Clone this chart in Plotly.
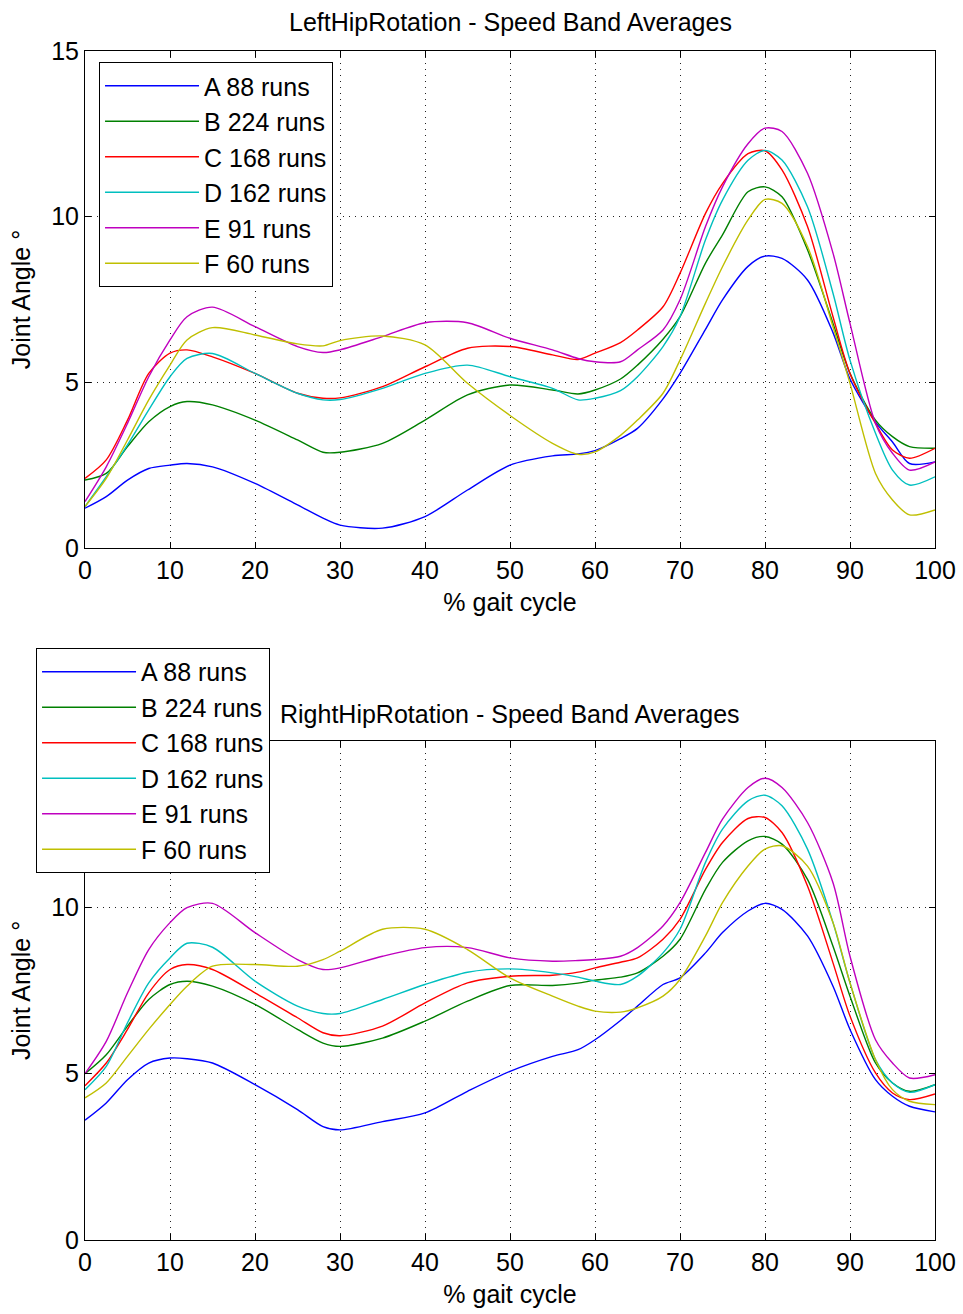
import plotly.graph_objects as go

# % gait cycle sample points
gait = [0, 2.5, 5, 7.5, 10, 12, 15, 20, 25, 28, 30, 35, 40, 45, 50, 55, 58, 60, 63, 65,
        68, 70, 73, 75, 78, 80, 82, 85, 88, 90, 93, 95, 97, 100]

labels = ["A 88 runs", "B 224 runs", "C 168 runs", "D 162 runs", "E 91 runs", "F 60 runs"]
colors = ["#0000FF", "#008000", "#FF0000", "#00BFBF", "#BF00BF", "#BFBF00"]

# LeftHipRotation series (Joint Angle deg)
left_A = [1.2, 1.55, 2.05, 2.4, 2.5, 2.55, 2.45, 1.95, 1.3, 0.9, 0.69, 0.6, 0.95, 1.75, 2.5, 2.78, 2.84, 2.94, 3.3, 3.61,
          4.5, 5.27, 6.6, 7.49, 8.5, 8.81, 8.74, 8.09, 6.5, 5.1, 3.8, 3.2, 2.55, 2.6]
left_B = [2.05, 2.25, 3.06, 3.81, 4.27, 4.42, 4.32, 3.86, 3.26, 2.89, 2.89, 3.16, 3.86, 4.62, 4.92, 4.77, 4.65, 4.77, 5.1, 5.52,
          6.3, 6.98, 8.6, 9.45, 10.75, 10.9, 10.6, 9.0, 6.78, 5.27, 3.86, 3.36, 3.06, 3.01]
left_C = [2.1, 2.66, 3.86, 5.27, 5.88, 5.98, 5.77, 5.27, 4.67, 4.52, 4.53, 4.87, 5.47, 6.03, 6.08, 5.83, 5.69, 5.88, 6.2, 6.58,
          7.28, 8.29, 10.1, 11.0, 11.9, 11.99, 11.41, 9.7, 6.98, 5.27, 3.76, 2.96, 2.71, 3.01]
left_D = [1.25, 2.15, 3.11, 4.17, 5.17, 5.72, 5.87, 5.27, 4.67, 4.47, 4.48, 4.82, 5.27, 5.52, 5.17, 4.82, 4.47, 4.52, 4.75, 5.17,
          6.08, 6.98, 9.3, 10.5, 11.7, 12.0, 11.71, 10.3, 7.69, 5.67, 3.46, 2.35, 1.9, 2.15]
left_E = [1.4, 2.45, 3.76, 5.17, 6.28, 6.98, 7.27, 6.68, 6.08, 5.9, 5.98, 6.38, 6.8, 6.8, 6.33, 5.98, 5.72, 5.62, 5.62, 5.98,
          6.58, 7.49, 9.7, 10.9, 12.2, 12.67, 12.57, 11.31, 8.9, 6.78, 3.76, 2.86, 2.35, 2.6]
left_F = [1.25, 2.1, 3.26, 4.47, 5.52, 6.28, 6.65, 6.43, 6.16, 6.1, 6.26, 6.4, 6.13, 4.97, 4.0, 3.16, 2.83, 2.9, 3.4, 3.86,
          4.67, 5.67, 7.39, 8.49, 9.9, 10.52, 10.4, 9.1, 6.68, 4.97, 2.25, 1.45, 1.0, 1.15]

# RightHipRotation series (Joint Angle deg)
right_A = [3.6, 4.12, 4.82, 5.32, 5.47, 5.45, 5.32, 4.67, 3.92, 3.41, 3.31, 3.56, 3.82, 4.47, 5.07, 5.52, 5.72, 6.02, 6.6, 7.03,
           7.68, 7.88, 8.63, 9.24, 9.89, 10.12, 9.94, 9.14, 7.63, 6.33, 4.82, 4.32, 4.02, 3.85]
right_B = [5.0, 5.57, 6.43, 7.23, 7.68, 7.78, 7.63, 7.08, 6.33, 5.92, 5.82, 6.07, 6.58, 7.18, 7.65, 7.65, 7.72, 7.81, 7.9, 8.03,
           8.53, 9.04, 10.54, 11.35, 12.0, 12.13, 11.9, 10.84, 8.83, 7.33, 5.32, 4.72, 4.47, 4.67]
right_C = [4.64, 5.32, 6.33, 7.43, 8.13, 8.28, 8.13, 7.43, 6.68, 6.23, 6.14, 6.43, 7.13, 7.73, 7.93, 7.96, 8.05, 8.18, 8.35, 8.48,
           9.04, 9.64, 11.14, 11.95, 12.67, 12.7, 12.25, 10.64, 8.33, 6.73, 5.02, 4.42, 4.22, 4.39]
right_D = [4.52, 5.22, 6.53, 7.73, 8.48, 8.92, 8.8, 7.78, 7.03, 6.81, 6.81, 7.23, 7.68, 8.05, 8.15, 8.03, 7.9, 7.78, 7.68, 7.93,
           8.63, 9.34, 11.35, 12.35, 13.2, 13.37, 13.05, 11.75, 9.54, 7.73, 5.42, 4.72, 4.44, 4.67]
right_E = [5.0, 5.97, 7.43, 8.73, 9.54, 9.99, 10.12, 9.24, 8.43, 8.13, 8.18, 8.53, 8.79, 8.79, 8.48, 8.38, 8.4, 8.43, 8.53, 8.79,
           9.44, 10.14, 11.65, 12.65, 13.6, 13.88, 13.6, 12.55, 10.74, 8.53, 6.02, 5.32, 4.87, 4.97]
right_F = [4.27, 4.72, 5.52, 6.33, 7.08, 7.63, 8.23, 8.28, 8.23, 8.43, 8.68, 9.34, 9.34, 8.73, 7.88, 7.33, 7.03, 6.88, 6.85, 6.98,
           7.33, 7.83, 9.14, 10.14, 11.24, 11.75, 11.85, 11.24, 9.54, 7.73, 5.42, 4.52, 4.17, 4.07]

x_ticks = [0, 10, 20, 30, 40, 50, 60, 70, 80, 90, 100]
y_ticks = [0, 5, 10, 15]
titles = ["LeftHipRotation - Speed Band Averages", "RightHipRotation - Speed Band Averages"]
x_title = "% gait cycle"
y_title = "Joint Angle °"

FONT = "Liberation Sans, Arial, sans-serif"
FS = 25

fig = go.Figure()
left = [left_A, left_B, left_C, left_D, left_E, left_F]
right = [right_A, right_B, right_C, right_D, right_E, right_F]
for i, ys in enumerate(left):
    fig.add_trace(go.Scatter(x=gait, y=ys, mode="lines", name=labels[i],
                             line=dict(color=colors[i], width=1.4, shape="spline", smoothing=0.8),
                             xaxis="x", yaxis="y", legend="legend"))
for i, ys in enumerate(right):
    fig.add_trace(go.Scatter(x=gait, y=ys, mode="lines", name=labels[i],
                             line=dict(color=colors[i], width=1.4, shape="spline", smoothing=0.8),
                             xaxis="x2", yaxis="y2", legend="legend2"))

axis_common = dict(
    showline=True, linecolor="black", linewidth=1, mirror="ticks",
    ticks="inside", ticklen=6, tickcolor="black", tickwidth=1,
    showgrid=True, gridcolor="#222222", gridwidth=1, griddash="1px,5px",
    zeroline=False, automargin=False,
    tickfont=dict(family=FONT, size=FS, color="black"),
)

fig.update_layout(
    width=963, height=1314,
    margin=dict(l=85, r=28, t=51, b=74),
    paper_bgcolor="white", plot_bgcolor="white",
    font=dict(family=FONT, size=FS, color="black"),
    xaxis=dict(domain=[0, 1], anchor="y", range=[0, 100], tickvals=x_ticks,
               title=dict(text=x_title, font=dict(family=FONT, size=FS), standoff=10), **axis_common),
    yaxis=dict(domain=[0.582, 1.0], anchor="x", range=[0, 15], tickvals=y_ticks,
               title=dict(text=y_title, font=dict(family=FONT, size=FS), standoff=13), **axis_common),
    xaxis2=dict(domain=[0, 1], anchor="y2", range=[0, 100], tickvals=x_ticks,
                title=dict(text=x_title, font=dict(family=FONT, size=FS), standoff=10), **axis_common),
    yaxis2=dict(domain=[0, 0.4197], anchor="x2", range=[0, 15], tickvals=y_ticks,
                title=dict(text=y_title, font=dict(family=FONT, size=FS), standoff=13), **axis_common),
    legend=dict(x=0.0165, y=0.9907, xanchor="left", yanchor="top",
                bgcolor="white", bordercolor="black", borderwidth=1,
                font=dict(family=FONT, size=FS), itemwidth=94),
    legend2=dict(x=-0.0576, y=0.4979, xanchor="left", yanchor="top",
                 bgcolor="white", bordercolor="black", borderwidth=1,
                 font=dict(family=FONT, size=FS), itemwidth=94),
    annotations=[
        dict(text=titles[0], xref="paper", yref="paper", x=0.5, y=1.0244, xanchor="center",
             yanchor="middle", showarrow=False, font=dict(family=FONT, size=FS)),
        dict(text=titles[1], xref="paper", yref="paper", x=0.5, y=0.4424, xanchor="center",
             yanchor="middle", showarrow=False, font=dict(family=FONT, size=FS)),
    ],
)

fig.write_html("out.html")
